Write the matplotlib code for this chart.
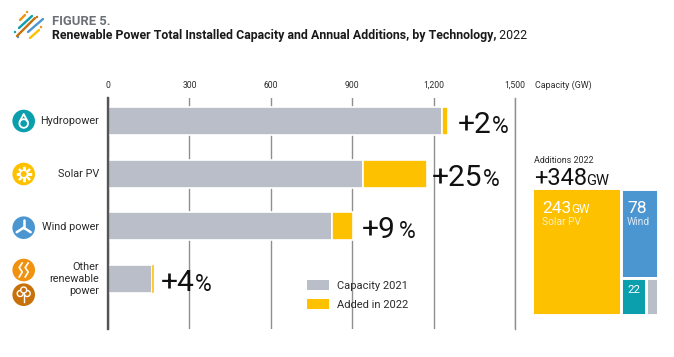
import matplotlib
matplotlib.use('Agg')
import matplotlib.pyplot as plt
from matplotlib.patches import Circle

plt.rcParams['font.family'] = ['Roboto', 'DejaVu Sans']

W, H = 674, 357

categories = ['Hydropower', 'Solar PV', 'Wind power', 'Other\nrenewable\npower']
capacity_2021 = [1231, 938, 826, 164]
added_2022 = [21, 239, 77, 6]
growth = ['+2', '+25', '+9', '+4']
ticks = [0, 300, 600, 900, 1200, 1500]
tick_labels = ['0', '300', '600', '900', '1,200', '1,500']

add_total = '+348'
add_solar = 243
add_wind = 78
add_hydro = 22

GRAY = '#B9BEC9'
YELLOW = '#FDC100'
BLUE = '#4B96D1'
TEAL = '#0B9FAD'
ORANGE = '#F09210'
DKORANGE = '#C8700A'
INK = '#2B2B2B'


def axes_px(fig, x0, y0, x1, y1):
    # axes from pixel box, y measured from the top
    return fig.add_axes([x0 / W, 1 - y1 / H, (x1 - x0) / W, (y1 - y0) / H])


def chain(ov, x, y, parts, **kw):
    # text runs of different size on one baseline
    r = ov.figure.canvas.get_renderer()
    for s, size, weight, gap in parts:
        t = ov.text(x + gap, y, s, fontsize=size, fontweight=weight, va='baseline', ha='left', **kw)
        x = t.get_window_extent(r).x1 - 0.5
    return x


fig = plt.figure(figsize=(W / 100, H / 100), dpi=100)
fig.set_facecolor('white')

# main bars
ax = axes_px(fig, 108, 98, 515, 329)
ypos = list(range(len(categories)))
ax.barh(ypos, capacity_2021, height=0.53, color=GRAY, edgecolor='white', linewidth=1.2,
        label='Capacity 2021', zorder=3)
ax.barh(ypos, added_2022, left=capacity_2021, height=0.53, color=YELLOW, edgecolor='white',
        linewidth=[1.2, 1.2, 1.2, 0.3], label='Added in 2022', zorder=3)
ax.set_xlim(0, 1500)
ax.set_ylim(3.95, -0.436)
ax.set_xticks(ticks)
ax.set_xticklabels(tick_labels, fontsize=6.2, color=INK)
ax.xaxis.tick_top()
ax.tick_params(axis='x', length=0, pad=6)
ax.set_yticks([])
ax.grid(axis='x', color='#8F8F8F', lw=1.0, zorder=1)
for s in ['top', 'bottom']:
    ax.spines[s].set_visible(False)
ax.spines['right'].set_color('#8F8F8F')
ax.spines['right'].set_linewidth(1.0)
ax.spines['left'].set_color('#555555')
ax.spines['left'].set_linewidth(1.7)
ax.spines['left'].set_zorder(5)

leg = ax.legend(loc='upper left', bbox_to_anchor=(0.488, 0.212), frameon=False, fontsize=8,
                handlelength=2.0, handleheight=1.0, handletextpad=0.7, labelspacing=0.75,
                borderpad=0, borderaxespad=0, labelcolor=INK)
for h in leg.legend_handles:
    h.set_linewidth(0)

split_x = 0.714
split_y = 0.286
split_low = 0.667
tm = axes_px(fig, 531.5, 188.5, 657.5, 314.5)
tm.bar(0, 1, width=split_x, align='edge', color=YELLOW, edgecolor='white', linewidth=2.1)
tm.bar(split_x, 1 - split_y, bottom=split_y, width=1 - split_x, align='edge', color=BLUE,
       edgecolor='white', linewidth=2.1)
low_w = (1 - split_x) * split_low
tm.bar(split_x, split_y, width=low_w, align='edge', color=TEAL, edgecolor='white', linewidth=2.1)
tm.bar(split_x + low_w, split_y, width=1 - split_x - low_w, align='edge', color=GRAY,
       edgecolor='white', linewidth=2.1)
tm.set_xlim(0, 1)
tm.set_ylim(0, 1)
tm.axis('off')

# overlay in pixel coordinates for text and icons
ov = fig.add_axes([0, 0, 1, 1], zorder=10)
ov.set_xlim(0, W)
ov.set_ylim(H, 0)
ov.axis('off')
ov.patch.set_alpha(0)

# logo
for (x0, y0, x1, y1, c) in [(17, 36, 35, 18, DKORANGE), (19, 28, 32, 16, TEAL),
                            (28, 32, 43, 19, BLUE), (30, 38, 39, 30, YELLOW),
                            (20, 20, 25, 15, ORANGE)]:
    ov.plot([x0, x1], [y0, y1], color=c, lw=1.7, solid_capstyle='round')
for (x, y, c) in [(27, 12, ORANGE), (15, 32, TEAL), (41, 27, ORANGE), (18, 37, BLUE), (37, 17, DKORANGE)]:
    ov.add_patch(Circle((x, y), 1.2, color=c, lw=0))

ov.text(52, 25, 'FIGURE 5.', fontsize=9.4, fontweight='bold', color='#6B6F76', va='baseline')
chain(ov, 52, 39, [('Renewable Power Total Installed Capacity and Annual Additions, by Technology,', 8.9, 'bold', 0),
                   (' 2022', 8.9, 'normal', 0)], color='#1A1A1A')
ov.text(535, 88, 'Capacity (GW)', fontsize=6.4, color=INK, va='baseline')

# row labels and icons
label_y = [121, 174, 227, 279]
for lab, y in zip(categories, label_y):
    ov.text(99, y, lab, fontsize=7.8, color=INK, ha='right', va='center', linespacing=1.2)

ov.add_patch(Circle((23.7, 121), 11.3, color=TEAL, lw=0))
ov.add_patch(Circle((23.7, 123.5), 4.3, fc='none', ec='white', lw=1.3))
ov.plot([19.8, 23.7, 27.6], [121.5, 114, 121.5], color='white', lw=1.3)

ov.add_patch(Circle((23.7, 174), 11.3, color=YELLOW, lw=0))
ov.add_patch(Circle((23.7, 174), 3.6, fc='none', ec='white', lw=1.3))
ov.plot([23.7], [174], marker=(8, 2, 0), color='white', ms=11, mew=1.5, zorder=1)
ov.add_patch(Circle((23.7, 174), 3.0, color=YELLOW, lw=0, zorder=3))

ov.add_patch(Circle((23.7, 227.7), 11.3, color=BLUE, lw=0))
for dx, dy in [(0, -8), (7, 4.5), (-7, 4.5)]:
    ov.plot([23.7, 23.7 + dx], [227.7, 227.7 + dy], color='white', lw=1.8, solid_capstyle='round')

ov.add_patch(Circle((23.7, 270), 11.3, color=ORANGE, lw=0))
for dx in (-3, 3):
    ov.plot([23.7 + dx + o for o in (1.5, -1.5, 1.5, -1.5)], [263, 267.5, 272, 277], color='white', lw=1.2)

ov.add_patch(Circle((23.7, 294.7), 11.3, color=DKORANGE, lw=0))
for dx, dy in [(-3.5, 0), (3.5, 0), (0, -3.5)]:
    ov.add_patch(Circle((23.7 + dx, 293.5 + dy), 3, fc=DKORANGE, ec='white', lw=1))
ov.plot([23.7, 23.7], [294, 302], color='white', lw=1)

# growth labels
label_x = [458, 432, 362, 161]
label_base = [133, 186, 238, 291]
pct_gap = [1, 1, 4, 1]
for s, x, y, g in zip(growth, label_x, label_base, pct_gap):
    chain(ov, x, y, [(s, 21.5, 'normal', 0), ('%', 16.5, 'normal', g)], color='#111111')

# additions header and block labels
ov.text(534, 163, 'Additions 2022', fontsize=6.4, color=INK, va='baseline')
chain(ov, 534, 185, [(add_total, 17, 'normal', 0), ('GW', 10.5, 'normal', 0)], color='#111111')
chain(ov, 542, 213, [(str(add_solar), 12.5, 'normal', 0), ('GW', 8.5, 'normal', 0)], color='white')
ov.text(542, 225, 'Solar PV', fontsize=7.4, color='white', alpha=0.75, va='baseline')
ov.text(627, 213, str(add_wind), fontsize=12.5, color='white', va='baseline')
ov.text(627, 225, 'Wind', fontsize=7.4, color='white', alpha=0.8, va='baseline')
ov.text(627, 293, str(add_hydro), fontsize=8.2, color='white', va='baseline')

fig.savefig('out.png', dpi=100)
